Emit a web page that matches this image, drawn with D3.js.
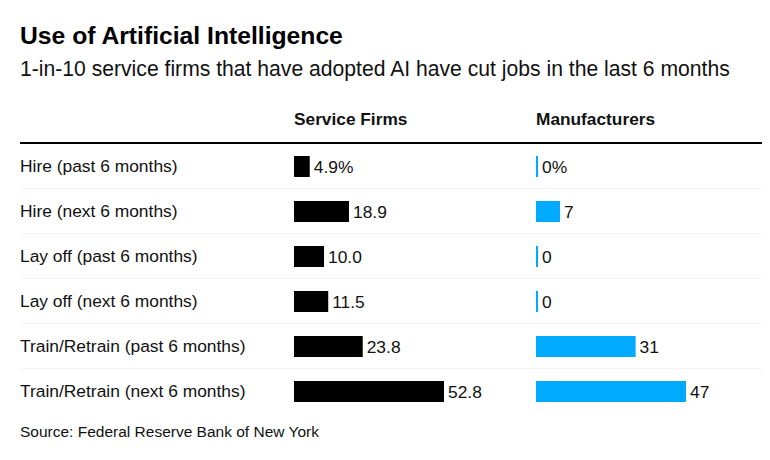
<!DOCTYPE html>
<html><head><meta charset="utf-8">
<script src="https://cdn.jsdelivr.net/npm/d3@7"></script>
<style>
body{margin:0;background:#fff;}
text{font-family:"Liberation Sans",Arial,sans-serif;}
</style></head>
<body>
<svg id="chart" width="770" height="460"></svg>
<script>
const categories = ["Hire (past 6 months)","Hire (next 6 months)","Lay off (past 6 months)","Lay off (next 6 months)","Train/Retrain (past 6 months)","Train/Retrain (next 6 months)"];
const serviceFirms = [4.9, 18.9, 10.0, 11.5, 23.8, 52.8];
const manufacturers = [0, 7, 0, 0, 31, 47];
const serviceLabels = ["4.9%","18.9","10.0","11.5","23.8","52.8"];
const manufLabels = ["0%","7","0","0","31","47"];
const seriesNames = ["Service Firms","Manufacturers"];

const svg = d3.select("#chart");
svg.append("text").attr("x",20).attr("y",44).attr("font-size",24.7).attr("font-weight","bold").attr("fill","#000").text("Use of Artificial Intelligence");
svg.append("text").attr("x",20).attr("y",76).attr("font-size",21.15).attr("fill","#111").text("1-in-10 service firms that have adopted AI have cut jobs in the last 6 months");

const y = d3.scaleBand().domain(categories).range([143,413]).padding(0);
const cols = [
  {name:seriesNames[0], x0:294, vals:serviceFirms, labels:serviceLabels, color:"#000"},
  {name:seriesNames[1], x0:536, vals:manufacturers, labels:manufLabels, color:"#00aaff"}
];

cols.forEach(c=>{
  svg.append("text").attr("x",c.x0).attr("y",125).attr("font-size",17.3).attr("font-weight","bold").attr("fill","#111").text(c.name);
});
svg.append("line").attr("x1",20).attr("x2",762).attr("y1",143).attr("y2",143).attr("stroke","#000").attr("stroke-width",2);

svg.selectAll("line.sep").data(categories.slice(1)).join("line").attr("class","sep")
  .attr("x1",20).attr("x2",762).attr("y1",d=>y(d)+0.5).attr("y2",d=>y(d)+0.5)
  .attr("stroke","#f4f4f4").attr("stroke-width",1);

svg.selectAll("text.cat").data(categories).join("text").attr("class","cat")
  .attr("x",20).attr("y",d=>y(d)+y.bandwidth()/2+6).attr("font-size",17.4).attr("fill","#111").text(d=>d);

cols.forEach(c=>{
  const x = d3.scaleLinear().domain([0,d3.max(c.vals)]).range([2,150]);
  const g = svg.append("g");
  g.selectAll("rect").data(c.vals).join("rect")
    .attr("x",c.x0).attr("y",(d,i)=>y(categories[i])+y.bandwidth()/2-9.5)
    .attr("width",d=>x(d)).attr("height",21).attr("fill",c.color);
  g.selectAll("text").data(c.vals).join("text")
    .attr("x",d=>c.x0+x(d)+4).attr("y",(d,i)=>y(categories[i])+y.bandwidth()/2+7)
    .attr("font-size",17.4).attr("fill","#111").text((d,i)=>c.labels[i]);
});

svg.append("text").attr("x",20).attr("y",437).attr("font-size",15.5).attr("fill","#111").text("Source: Federal Reserve Bank of New York");
</script>
</body></html>
